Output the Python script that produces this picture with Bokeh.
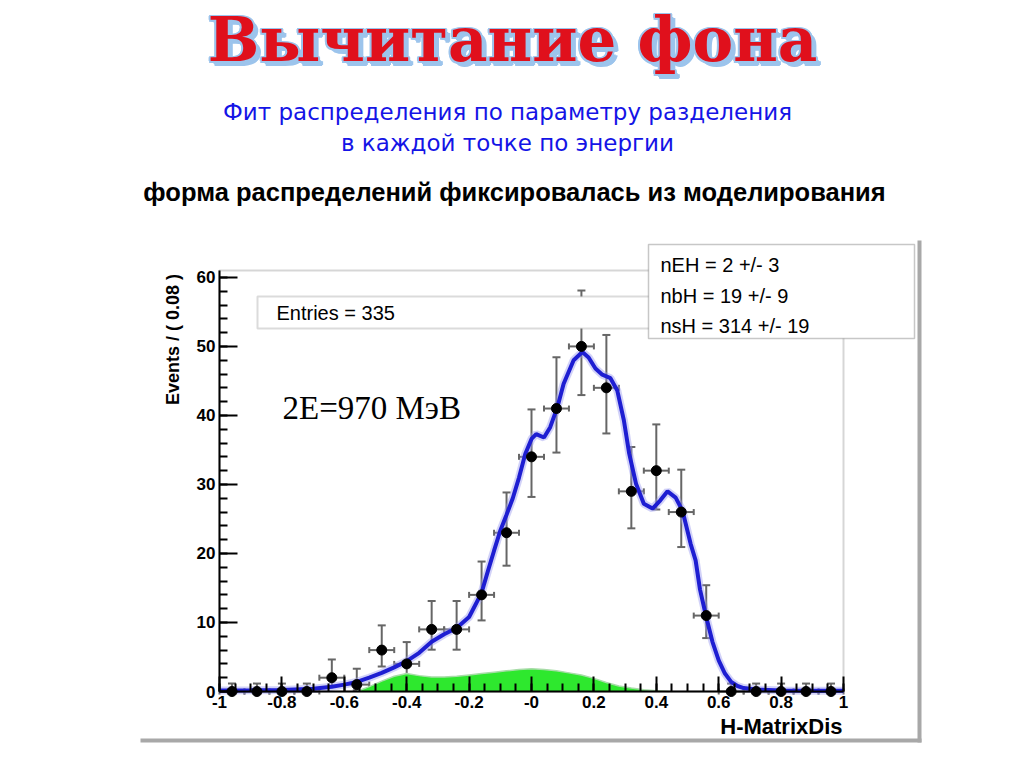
import math
import numpy as np
from bokeh.plotting import figure
from bokeh.models import (Range1d, FixedTicker, Label, BoxAnnotation, Whisker,
                          TeeHead, ColumnDataSource)
from bokeh.embed import file_html
from bokeh.resources import INLINE

# ---------------- data ----------------
bin_centers = [-0.96, -0.88, -0.80, -0.72, -0.64, -0.56, -0.48, -0.40, -0.32,
               -0.24, -0.16, -0.08, 0.00, 0.08, 0.16, 0.24, 0.32, 0.40, 0.48,
               0.56, 0.64, 0.72, 0.80, 0.88, 0.96]
counts = [0, 0, 0, 0, 2, 1, 6, 4, 9, 9, 14, 23, 34, 41, 50, 44, 29, 32, 26, 11,
          0, 0, 0, 0, 0]
err_low = [0, 0, 0, 0, 1.29, 0.83, 2.38, 1.91, 2.94, 2.94, 3.70, 4.77, 5.81,
           6.38, 7.05, 6.61, 5.36, 5.63, 5.07, 3.26, 0, 0, 0, 0, 0]
err_high = [1.15, 1.15, 1.15, 1.15, 2.64, 2.30, 3.58, 3.16, 4.11, 4.11, 4.83,
            5.84, 6.87, 7.43, 8.10, 7.66, 6.43, 6.70, 6.14, 4.40, 1.15, 1.15,
            1.15, 1.15, 1.15]
bin_half_width = 0.04

fit_x = [-1.00, -0.90, -0.80, -0.70, -0.64, -0.60, -0.56, -0.52, -0.48, -0.44,
         -0.40, -0.36, -0.32, -0.28, -0.24, -0.20, -0.16, -0.14, -0.12, -0.10,
         -0.08, -0.06, -0.04, -0.02, 0.00, 0.015, 0.04, 0.06, 0.083, 0.103,
         0.135, 0.163, 0.183, 0.205, 0.227, 0.253, 0.275, 0.296, 0.313, 0.335,
         0.36, 0.388, 0.413, 0.436, 0.462, 0.484, 0.51, 0.526, 0.54, 0.56,
         0.58, 0.60, 0.62, 0.64, 0.66, 0.68, 0.72, 0.80, 0.90, 1.00]
fit_y = [0.15, 0.18, 0.22, 0.40, 0.70, 1.0, 1.4, 2.0, 2.7, 3.5,
         4.4, 5.6, 7.2, 8.3, 9.2, 10.8, 14.3, 17.4, 20.4, 23.3,
         25.6, 28.0, 31.0, 34.4, 36.6, 37.3, 36.8, 38.3, 41.2, 44.6,
         48.0, 49.2, 48.4, 46.8, 45.9, 45.4, 43.6, 39.3, 34.5, 30.1,
         27.2, 26.5, 27.7, 29.0, 28.1, 26.2, 21.4, 19.0, 14.8, 10.8,
         7.2, 4.5, 2.6, 1.4, 0.8, 0.5, 0.3, 0.15, 0.1, 0.1]

bg_x = [-0.56, -0.52, -0.48, -0.44, -0.40, -0.36, -0.32, -0.28, -0.24, -0.20,
        -0.16, -0.12, -0.08, -0.04, 0.00, 0.04, 0.08, 0.12, 0.16, 0.20, 0.24,
        0.28, 0.32, 0.36, 0.40, 0.44]
bg_y = [0.0, 0.7, 1.5, 2.2, 2.6, 2.3, 2.1, 2.1, 2.2, 2.4, 2.6, 2.8, 3.0, 3.2,
        3.3, 3.2, 3.0, 2.7, 2.4, 1.9, 1.3, 0.8, 0.5, 0.25, 0.1, 0.0]

x_ticks = [-1.0, -0.8, -0.6, -0.4, -0.2, 0.0, 0.2, 0.4, 0.6, 0.8, 1.0]
x_tick_labels = ["-1", "-0.8", "-0.6", "-0.4", "-0.2", "-0", "0.2", "0.4",
                 "0.6", "0.8", "1"]
y_ticks = [0, 10, 20, 30, 40, 50, 60]

title_text = "Вычитание фона"
sub1 = "Фит распределения по параметру разделения"
sub2 = "в каждой точке по энергии"
sub3 = "форма распределений фиксировалась из моделирования"
energy_text = "2E=970 МэВ"
entries_text = "Entries =  335"
fit_lines = ["nEH = 2 +/- 3", "nbH =  19 +/- 9", "nsH = 314 +/- 19"]

# ---------------- geometry (page pixels) ----------------
W, H = 1016, 760
FL, FR, FT, FB = 219, 843, 270, 691          # ROOT frame in the picture
XMIN, XMAX, YMIN, YMAX = -1.0, 1.0, 0.0, 61.0


def dx(px):
    return XMIN + (px - FL) * (XMAX - XMIN) / (FR - FL)


def dy(py):
    return YMIN + (FB - py) * (YMAX - YMIN) / (FB - FT)


p = figure(width=W, height=H, output_backend="svg", toolbar_location=None,
           x_range=Range1d(dx(0), dx(W)), y_range=Range1d(dy(H), dy(0)),
           min_border=0)
p.xgrid.visible = False
p.ygrid.visible = False
p.background_fill_color = "white"
p.border_fill_color = "white"
p.outline_line_color = None

x_minor = [round(v, 2) for v in np.arange(-1.0, 1.0001, 0.05)]
y_minor = list(range(0, 61, 2))
p.xaxis.ticker = FixedTicker(ticks=x_ticks, minor_ticks=x_minor)
p.yaxis.ticker = FixedTicker(ticks=y_ticks, minor_ticks=y_minor)
p.xaxis.major_label_overrides = {t: l for t, l in zip(x_ticks, x_tick_labels)}
p.xaxis.fixed_location = YMIN
p.yaxis.fixed_location = XMIN
p.xaxis.bounds = (XMIN, XMAX)
p.yaxis.bounds = (YMIN, YMAX)
for ax in (p.xaxis, p.yaxis):
    ax.axis_line_color = "black"
    ax.axis_line_width = 2
    ax.major_tick_line_width = 2
    ax.minor_tick_line_width = 2
    ax.major_tick_out = 0
    ax.minor_tick_out = 0
    ax.minor_tick_in = 8
    ax.major_label_text_font = "Liberation Sans"
    ax.major_label_text_font_style = "bold"
    ax.major_label_text_font_size = "17px"
    ax.major_label_text_color = "black"
    ax.major_label_standoff = 4
p.xaxis.major_tick_in = 15
p.yaxis.major_tick_in = 18

# ROOT frame (top / right edges)
p.add_layout(BoxAnnotation(left=XMIN, right=XMAX, bottom=YMIN, top=YMAX,
                           fill_alpha=0, line_color="#777777", line_width=2,
                           level="underlay"))

# background (green) component
p.varea(x=bg_x, y1=[0] * len(bg_x), y2=bg_y, fill_color="#2ee82e")
p.line(bg_x, bg_y, line_color="#a8dca8", line_width=1.5)

# fit curve
p.line(fit_x, fit_y, line_color="#9c9cf0", line_width=8, line_alpha=0.45)
p.line(fit_x, fit_y, line_color="#1e1ed2", line_width=4)

# error bars
src = ColumnDataSource(dict(
    x=bin_centers, y=counts,
    lo=[c - e for c, e in zip(counts, err_low)],
    hi=[c + e for c, e in zip(counts, err_high)],
    xl=[x - bin_half_width for x in bin_centers],
    xr=[x + bin_half_width for x in bin_centers]))
ecol = "#666666"
vw = Whisker(source=src, base="x", lower="lo", upper="hi", dimension="height",
             line_color=ecol, line_width=2,
             upper_head=TeeHead(size=8, line_color=ecol, line_width=2),
             lower_head=TeeHead(size=8, line_color=ecol, line_width=2))
hw = Whisker(source=src, base="y", lower="xl", upper="xr", dimension="width",
             line_color=ecol, line_width=2,
             upper_head=TeeHead(size=6, line_color=ecol, line_width=2),
             lower_head=TeeHead(size=6, line_color=ecol, line_width=2))
p.add_layout(vw)
p.add_layout(hw)
pts = p.scatter("x", "y", source=src, size=10, color="black")
pts.level = "overlay"

# Entries box (under data)
p.add_layout(BoxAnnotation(left=dx(257), right=dx(700), top=dy(296),
                           bottom=dy(328), fill_color="white", fill_alpha=1.0,
                           line_color="#888888", line_width=2,
                           level="underlay"))
p.add_layout(Label(x=dx(276), y=dy(323), text=entries_text,
                   text_font="Liberation Sans", text_font_size="20px",
                   text_color="black"))

# fit results box
p.add_layout(BoxAnnotation(left=dx(648), right=dx(914), top=dy(244),
                           bottom=dy(338), fill_color="white", fill_alpha=1.0,
                           line_color="#444444", line_width=1.5))
for txt, by in zip(fit_lines, [275, 306, 336]):
    p.add_layout(Label(x=dx(660), y=dy(by), text=txt,
                       text_font="Liberation Sans", text_font_size="20px",
                       text_color="black"))

# canvas shadow borders
p.add_layout(BoxAnnotation(left=dx(140), right=dx(921), top=dy(738),
                           bottom=dy(742), fill_color="#a8a8a8", fill_alpha=1,
                           line_alpha=0))
p.add_layout(BoxAnnotation(left=dx(917), right=dx(921), top=dy(240),
                           bottom=dy(742), fill_color="#a8a8a8", fill_alpha=1,
                           line_alpha=0))

# axis titles
p.add_layout(Label(x=dx(172), y=dy(339), text="Events / ( 0.08 )",
                   angle=math.pi / 2, text_align="center",
                   text_baseline="middle", text_font="Liberation Sans",
                   text_font_style="bold", text_font_size="18px",
                   text_color="black"))
p.add_layout(Label(x=dx(842), y=dy(726), text="H-MatrixDis",
                   text_align="right", text_baseline="alphabetic",
                   text_font="Liberation Sans", text_font_style="bold",
                   text_font_size="22px", text_color="black"))

# energy label
p.add_layout(Label(x=dx(282), y=dy(407), text=energy_text,
                   text_baseline="alphabetic", text_font="Liberation Serif",
                   text_font_size="33px", text_color="black"))

# decorative title
tx, ty = dx(512), dy(39)
halo = [(-2, 0), (2, 0), (0, 1.5), (0, -2), (-1.5, 1), (1.5, 1),
        (-1.5, -1.5), (1.5, -1.5), (3, -3), (4, -4), (5, -4), (4, -5)]
for ox, oy in halo:
    p.add_layout(Label(x=tx, y=ty, x_offset=ox, y_offset=oy, text=title_text,
                       text_align="center", text_baseline="alphabetic",
                       text_font="DejaVu Serif", text_font_style="bold",
                       text_font_size="61px", text_color="#9cc4ec"))
p.add_layout(Label(x=tx, y=ty, text=title_text, text_align="center",
                   text_baseline="alphabetic", text_font="DejaVu Serif",
                   text_font_style="bold", text_font_size="61px",
                   text_color="#e0101c"))

# subtitles
p.add_layout(Label(x=dx(507), y=dy(111), text=sub1, text_align="center",
                   text_baseline="alphabetic", text_font="DejaVu Sans",
                   text_font_size="23px", text_color="#1414e6"))
p.add_layout(Label(x=dx(507), y=dy(142), text=sub2, text_align="center",
                   text_baseline="alphabetic", text_font="DejaVu Sans",
                   text_font_size="23px", text_color="#1414e6"))
p.add_layout(Label(x=dx(514), y=dy(191), text=sub3, text_align="center",
                   text_baseline="alphabetic", text_font="Liberation Sans",
                   text_font_style="bold", text_font_size="25.5px",
                   text_color="black"))

open("out.html", "w").write(file_html(p, INLINE))
